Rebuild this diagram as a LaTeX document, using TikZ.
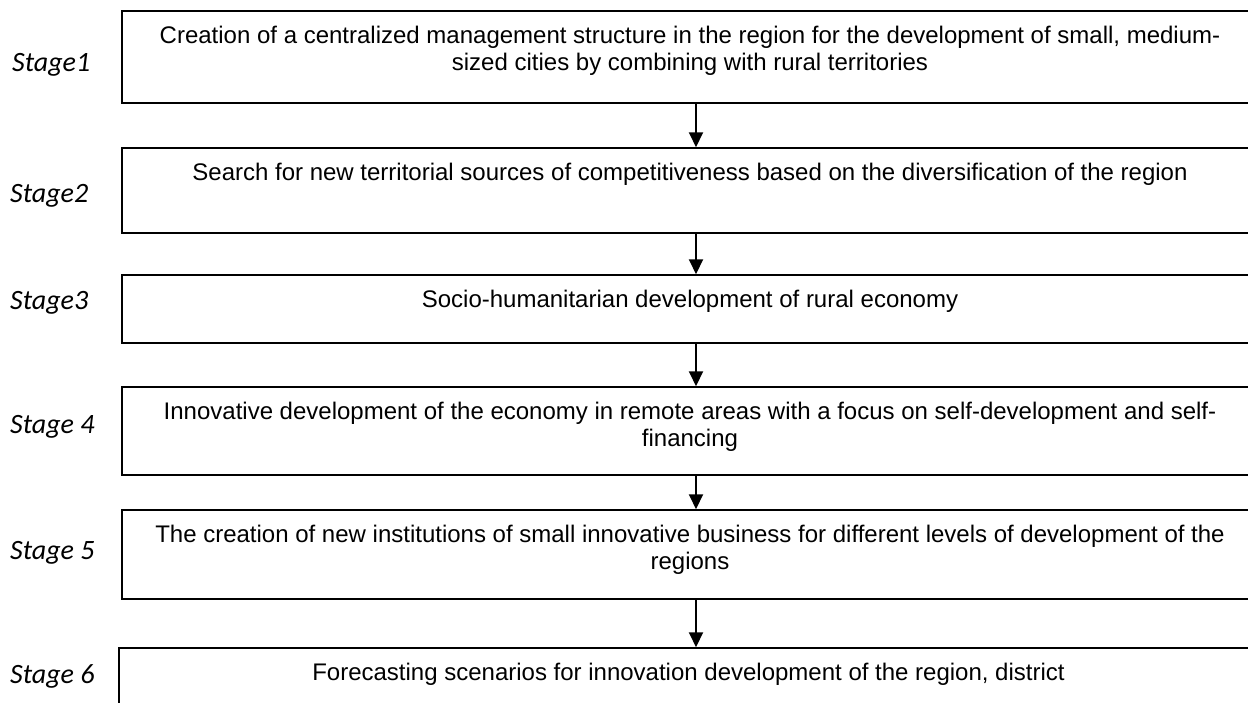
\documentclass[tikz,border=0pt]{standalone}
\usepackage{fontspec}
\setmainfont{Liberation Sans}
\newfontfamily\labelfont{Carlito}
\usetikzlibrary{arrows.meta}

\begin{document}
\begin{tikzpicture}[
  x=1pt, y=-1pt,
  stagebox/.style={draw, line width=1.5pt, minimum width=1136pt, inner sep=0pt},
  stagetext/.style={align=center, inner sep=0pt, anchor=north, font=\fontsize{24}{27}\selectfont},
  stagelabel/.style={anchor=base west, inner sep=0pt, font=\labelfont\itshape\fontsize{28}{31}\selectfont},
  arr/.style={line width=2pt, -{Triangle[length=15pt,width=14pt]}},
]
\useasboundingbox (0,0) rectangle (1248,702);
\clip (0,0) rectangle (1248,702);

\node [stagebox, minimum height=92pt] (box1) at (690,57) {};
\node [stagebox, minimum height=85pt] (box2) at (690,190.5) {};
\node [stagebox, minimum height=68pt] (box3) at (690,309) {};
\node [stagebox, minimum height=88pt] (box4) at (690,431) {};
\node [stagebox, minimum height=89pt] (box5) at (690,554.5) {};
\node [stagebox, minimum height=92pt, minimum width=1139pt] (box6) at (688.5,694) {};

\node [stagetext] (text1) at ([yshift=-15.3pt]box1.north) {Creation of a centralized management structure in the region for the development of small, medium-\\sized cities by combining with rural territories};
\node [stagetext] (text2) at ([yshift=-15.3pt]box2.north) {Search for new territorial sources of competitiveness based on the diversification of the region};
\node [stagetext] (text3) at ([yshift=-15.3pt]box3.north) {Socio-humanitarian development of rural economy};
\node [stagetext] (text4) at ([yshift=-15.3pt]box4.north) {Innovative development of the economy in remote areas with a focus on self-development and self-\\financing};
\node [stagetext] (text5) at ([yshift=-15.3pt]box5.north) {The creation of new institutions of small innovative business for different levels of development of the\\regions};
\node [stagetext] (text6) at ([yshift=-15.3pt]box6.north) {Forecasting scenarios for innovation development of the region, district};

\node [stagelabel] (label1) at (12,71.5) {Stage1};
\node [stagelabel] (label2) at (10,202) {Stage2};
\node [stagelabel] (label3) at (10,309) {Stage3};
\node [stagelabel] (label4) at (10,433) {Stage 4};
\node [stagelabel] (label5) at (10,559) {Stage 5};
\node [stagelabel] (label6) at (10,683) {Stage 6};

\draw [arr] ([xshift=6pt]box1.south) -- ([xshift=6pt]box1.south |- box2.north);
\draw [arr] ([xshift=6pt]box2.south) -- ([xshift=6pt]box2.south |- box3.north);
\draw [arr] ([xshift=6pt]box3.south) -- ([xshift=6pt]box3.south |- box4.north);
\draw [arr] ([xshift=6pt]box4.south) -- ([xshift=6pt]box4.south |- box5.north);
\draw [arr] ([xshift=6pt]box5.south) -- ([xshift=6pt]box5.south |- box6.north);

\end{tikzpicture}
\end{document}
